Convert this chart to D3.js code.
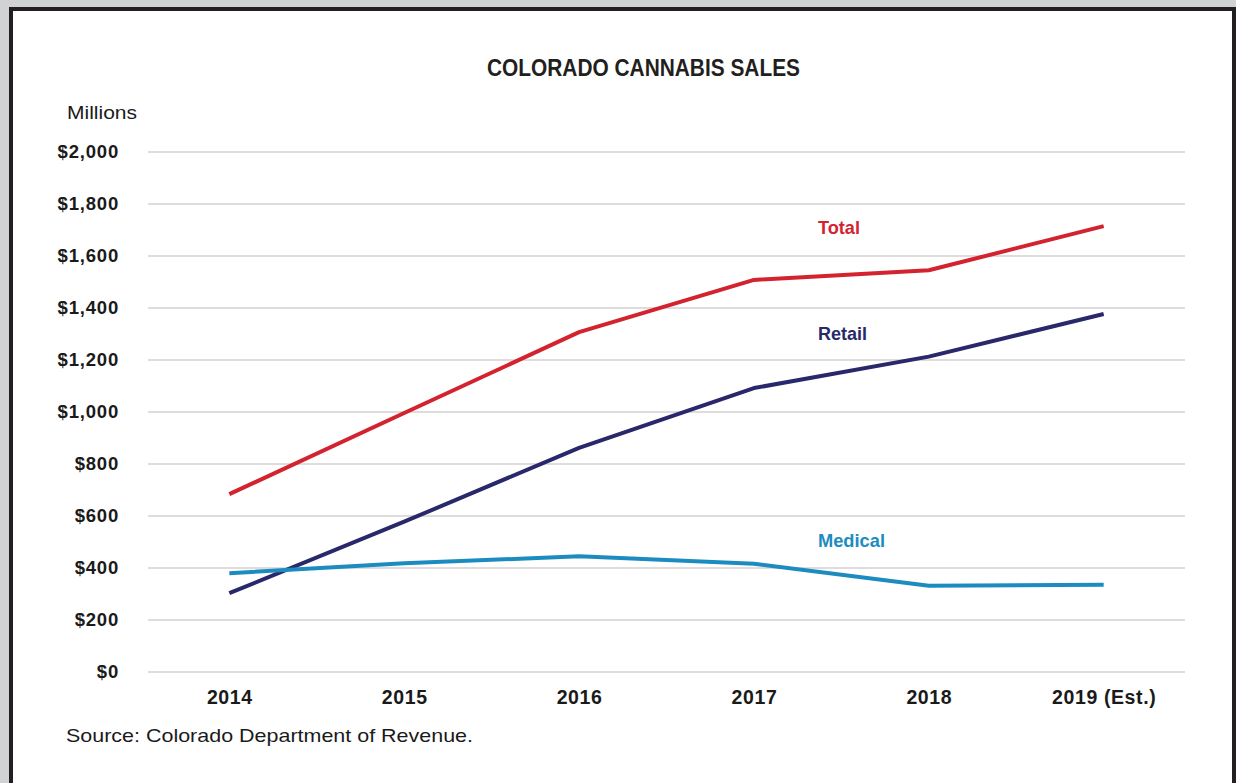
<!DOCTYPE html>
<html>
<head>
<meta charset="utf-8">
<script src="https://cdn.jsdelivr.net/npm/d3@7"></script>
<style>
  html, body { margin: 0; padding: 0; background: #d1d2d4; }
  svg { display: block; }
</style>
</head>
<body>
<svg id="chart" width="1236" height="783"></svg>
<script>
// Colorado cannabis sales, millions of dollars
const years = ["2014", "2015", "2016", "2017", "2018", "2019 (Est.)"];
const totalSales = [684, 996, 1307, 1508, 1545, 1715];
const retailSales = [303, 578, 862, 1092, 1213, 1377];
const medicalSales = [380, 418, 445, 416, 332, 336];
const yTicks = [0, 200, 400, 600, 800, 1000, 1200, 1400, 1600, 1800, 2000];

const series = [
  { name: "Total", values: totalSales, color: "#d2232f", labelAt: 1685, width: 42 },
  { name: "Retail", values: retailSales, color: "#28286a", labelAt: 1277, width: 49 },
  { name: "Medical", values: medicalSales, color: "#1c8cc0", labelAt: 482, width: 67 }
];

const sans = "'Liberation Sans', Arial, Helvetica, sans-serif";
const svg = d3.select("#chart");

// frame
svg.append("rect").attr("x", 11).attr("y", 9).attr("width", 1223).attr("height", 790)
  .attr("fill", "#ffffff").attr("stroke", "#231f20").attr("stroke-width", 4);

const x = d3.scalePoint().domain(years).range([148, 1185]).padding(0.465);
const y = d3.scaleLinear().domain([0, 2000]).range([672, 152]);

// title (condensed)
svg.append("text").attr("x", 487).attr("y", 76)
  .attr("font-family", sans).attr("font-weight", "bold").attr("font-size", 24.5)
  .attr("fill", "#231f20")
  .attr("textLength", 313).attr("lengthAdjust", "spacingAndGlyphs")
  .text("COLORADO CANNABIS SALES");

// gridlines
svg.append("g").selectAll("line").data(yTicks).join("line")
  .attr("x1", 148).attr("x2", 1185)
  .attr("y1", d => y(d)).attr("y2", d => y(d))
  .attr("stroke", "#dedcdc").attr("stroke-width", 2);

// y axis
const yAxis = svg.append("g").attr("transform", "translate(119,0)")
  .call(d3.axisLeft(y).tickValues(yTicks).tickSize(0).tickPadding(0)
    .tickFormat(d => "$" + d3.format(",")(d)));
yAxis.select(".domain").remove();
yAxis.selectAll("text")
  .attr("font-family", sans).attr("font-weight", "bold").attr("font-size", 18.5)
  .attr("letter-spacing", 0.8).attr("fill", "#1a1a1a");

svg.append("text").attr("x", 67).attr("y", 119)
  .attr("font-family", sans).attr("font-size", 18.5).attr("fill", "#1a1a1a")
  .attr("textLength", 70).attr("lengthAdjust", "spacingAndGlyphs")
  .text("Millions");

// x axis
const xAxis = svg.append("g").attr("transform", "translate(0,690)")
  .call(d3.axisBottom(x).tickSize(0).tickPadding(0));
xAxis.select(".domain").remove();
xAxis.selectAll("text")
  .attr("dy", "0.71em")
  .attr("font-family", sans).attr("font-weight", "bold").attr("font-size", 19.5)
  .attr("letter-spacing", 0.6).attr("fill", "#1a1a1a");

// lines
const line = d3.line().x((d, i) => x(years[i])).y(d => y(d));
svg.append("g").selectAll("path").data(series).join("path")
  .attr("d", s => line(s.values))
  .attr("fill", "none").attr("stroke", s => s.color)
  .attr("stroke-width", 4).attr("stroke-linejoin", "round");

// series labels
svg.append("g").selectAll("text").data(series).join("text")
  .attr("x", 818).attr("y", s => y(s.labelAt))
  .attr("font-family", sans).attr("font-weight", "bold").attr("font-size", 19)
  .attr("textLength", s => s.width).attr("lengthAdjust", "spacingAndGlyphs")
  .attr("fill", s => s.color).text(s => s.name);

// source note
svg.append("text").attr("x", 66).attr("y", 742)
  .attr("font-family", sans).attr("font-size", 18.5).attr("fill", "#1a1a1a")
  .attr("textLength", 407).attr("lengthAdjust", "spacingAndGlyphs")
  .text("Source: Colorado Department of Revenue.");
</script>
</body>
</html>
